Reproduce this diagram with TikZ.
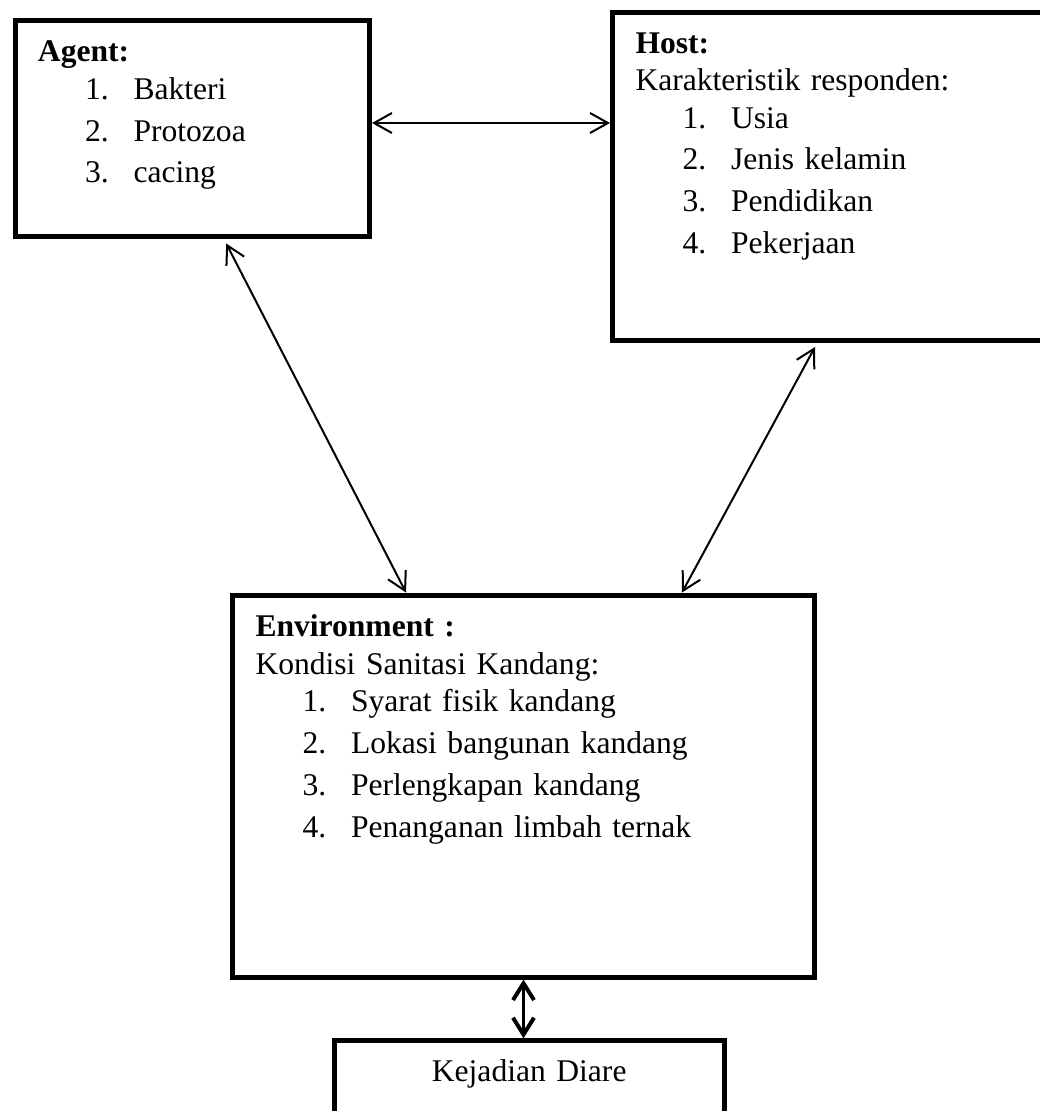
\documentclass[tikz,border=0pt]{standalone}
\usepackage{fontspec}
\setmainfont{Liberation Serif}
\usetikzlibrary{arrows.meta,calc}
\tikzset{
	kotak/.style={draw, line width=1.9pt, rectangle, anchor=north west, inner xsep=8.74pt, inner ysep=0pt,
			align=left, font=\fontsize{12pt}{14.25pt}\selectfont},
	panah/.style={{Straight Barb[length=6.8pt,width=7.6pt]}-{Straight Barb[length=6.8pt,width=7.6pt]}, line width=0.76pt},
	panahtebal/.style={{Straight Barb[length=6.4pt,width=8pt]}-{Straight Barb[length=6.4pt,width=8pt]}, line width=1.5pt}
}
\newcommand{\numitem}[2]{\hspace*{17.9pt}\makebox[18.4pt][l]{#1}#2}

\begin{document}
\begin{tikzpicture}[x=0.38pt, y=-0.38pt]
			\useasboundingbox (0,0) rectangle (1040,1111);
			\clip (0,0) rectangle (1040,1111);

			% kotak-kotak
			\node[kotak, text width=117.23pt, text height=15.58pt, text depth=66.5pt] (agent) at (12.5,17.5)
				{\textbf{Agent:}\\[0.2pt]
				\numitem{1.}{Bakteri}\\[1.7pt]
				\numitem{2.}{Protozoa}\\[1.7pt]
				\numitem{3.}{cacing}};
			\node[kotak, text width=156.37pt, text height=15.58pt, text depth=109.06pt] (host) at (610,9.5)
				{\textbf{Host:}\\
				Karakteristik responden:\\
				\numitem{1.}{Usia}\\[1.7pt]
				\numitem{2.}{Jenis kelamin}\\[1.7pt]
				\numitem{3.}{Pendidikan}\\[1.7pt]
				\numitem{4.}{Pekerjaan}};
			\node[kotak, text width=203.68pt, text height=15.77pt, text depth=129.39pt] (env) at (230,592.5)
				{\textbf{Environment :}\\
				Kondisi Sanitasi Kandang:\\
				\numitem{1.}{Syarat fisik kandang}\\[1.7pt]
				\numitem{2.}{Lokasi bangunan kandang}\\[1.7pt]
				\numitem{3.}{Perlengkapan kandang}\\[1.7pt]
				\numitem{4.}{Penanganan limbah ternak}};
			\node[kotak, align=center, text width=130.72pt, text height=15.58pt, text depth=30.02pt] (kejadian) at (331.7,1038.3)
				{Kejadian Diare};

			% panah
			\path ([yshift=1.9pt]agent.east) coordinate (ah);
			\draw[panah]	(ah) -- (ah -| host.west);
			\draw[panah]	([shift={(12.9pt,-1.9pt)}]agent.south) -- ([xshift=-44.65pt]env.north);
			\draw[panah]	([shift={(77.9pt,-1.71pt)}]host.south west) -- ([xshift=60.23pt]env.north);
			\draw[panahtebal]	(env.south) -- (env.south |- kejadian.north);
		\end{tikzpicture}
\end{document}
